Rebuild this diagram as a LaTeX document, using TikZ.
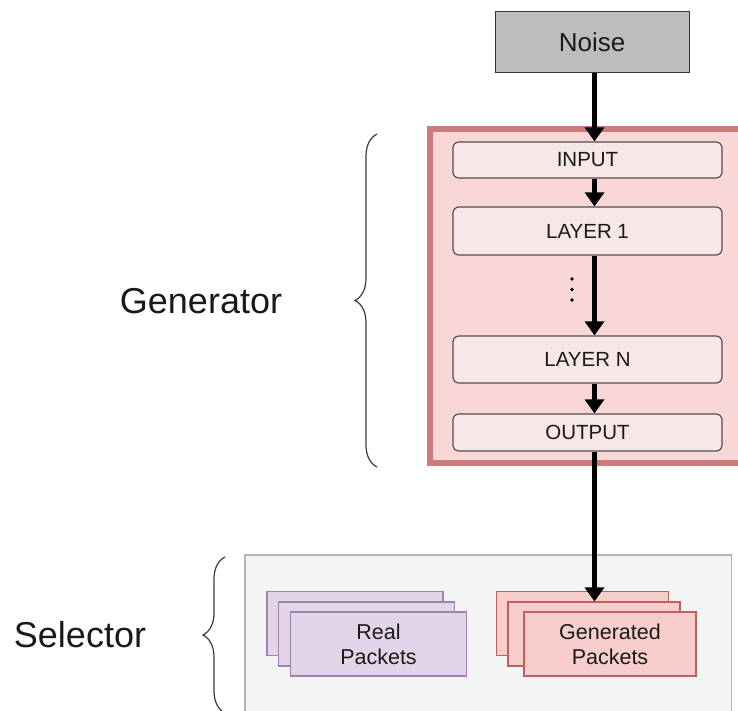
\documentclass[tikz,border=0pt]{standalone}
\usepackage{fontspec}
\setmainfont{Liberation Sans}
\usetikzlibrary{arrows.meta,decorations.pathreplacing}

\definecolor{txt}{HTML}{1A1A1A}
\definecolor{noisefill}{HTML}{BDBDBD}
\definecolor{noiseline}{HTML}{333333}
\definecolor{genfill}{HTML}{F8D7D6}
\definecolor{genline}{HTML}{CE7C7B}
\definecolor{layerfill}{HTML}{F7E7E7}
\definecolor{layerline}{HTML}{505050}
\definecolor{selfill}{HTML}{F3F5F4}
\definecolor{selline}{HTML}{B5B5B5}
\definecolor{realfill}{HTML}{E1D5E7}
\definecolor{realline}{HTML}{A07FB2}
\definecolor{genpfill}{HTML}{F8CECC}
\definecolor{genpline}{HTML}{C0605C}
\definecolor{braceline}{HTML}{3A3A3A}

\begin{document}
\begin{tikzpicture}[x=1pt,y=-1pt,
  every node/.style={text=txt, inner sep=0pt},
  noisebox/.style={draw=noiseline, fill=noisefill, line width=1pt,
    font=\fontsize{26}{30}\selectfont},
  genbox/.style={draw=genline, fill=genfill, line width=6pt},
  layerbox/.style={draw=layerline, fill=layerfill, line width=1.2pt,
    rounded corners=6pt, minimum width=269pt,
    font=\fontsize{20.5}{24}\selectfont},
  selbox/.style={draw=selline, fill=selfill, line width=1.3pt},
  realbox/.style={draw=realline, fill=realfill, line width=1.1pt,
    minimum width=176pt, minimum height=64pt, align=center,
    font=\fontsize{21.5}{25}\selectfont},
  genpbox/.style={draw=genpline, fill=genpfill, line width=1.1pt,
    minimum width=172pt, minimum height=64pt, align=center,
    font=\fontsize{21.5}{25}\selectfont},
  flow/.style={line width=4.4pt, draw=black,
    -{Triangle[width=19pt,length=14pt]}},
  bracket/.style={draw=braceline, line width=1.2pt,
    decorate, decoration={brace, amplitude=22pt}},
  sidelabel/.style={font=\fontsize{36}{42}\selectfont}
]
\useasboundingbox (0,0) rectangle (738,711);

% x position of the main data flow
\coordinate (ax) at (594.5,0);

% noise source
\node[noisebox, minimum width=194pt, minimum height=61pt] (noise) at (592,42.5) {Noise};

% generator network
\node[genbox, minimum width=320pt, minimum height=333pt] (gen) at (589.5,296) {};
\node[layerbox, minimum height=36pt] (input) at (587.5,160) {INPUT};
\node[layerbox, minimum height=48pt] (layer1) at (587.5,231) {LAYER 1};
\node[layerbox, minimum height=47pt] (layerN) at (587.5,359.5) {LAYER N};
\node[layerbox, minimum height=37pt] (output) at (587.5,432.5) {OUTPUT};

% vertical ellipsis between the hidden layers
\foreach \yy in {279,289.5,300}
  \fill[black] (572,\yy) circle (1.9pt);

% selector panel
\node[selbox, minimum width=486.5pt, minimum height=170pt] (sel) at (488.25,640) {};

% real packets stack
\node[realbox] (realA) at (355,623.5) {};
\node[realbox] (realB) at (366.5,634) {};
\node[realbox] (realC) at (378.5,644) {Real\\Packets};

% generated packets stack
\node[genpbox] (genpA) at (582.5,623.5) {};
\node[genpbox] (genpB) at (594,634) {};
\node[genpbox] (genpC) at (610,644) {Generated\\Packets};

% data flow
\draw[flow] (noise.south -| ax) -- (input.north -| ax);
\draw[flow] (input.south -| ax) -- (layer1.north -| ax);
\draw[flow] (layer1.south -| ax) -- (layerN.north -| ax);
\draw[flow] (layerN.south -| ax) -- (output.north -| ax);
\draw[flow] (output.south -| ax) -- (genpB.north -| ax);

% braces and their labels
\coordinate (gb1) at (377,467);
\coordinate (gb2) at (377,134);
\draw[bracket] (gb1) -- (gb2);
\node[sidelabel] (genlabel) at (201,301) {Generator};

\coordinate (sb1) at (225,713);
\coordinate (sb2) at (225,557);
\draw[bracket] (sb1) -- (sb2);
\node[sidelabel] (sellabel) at (80,635) {Selector};
\end{tikzpicture}
\end{document}
